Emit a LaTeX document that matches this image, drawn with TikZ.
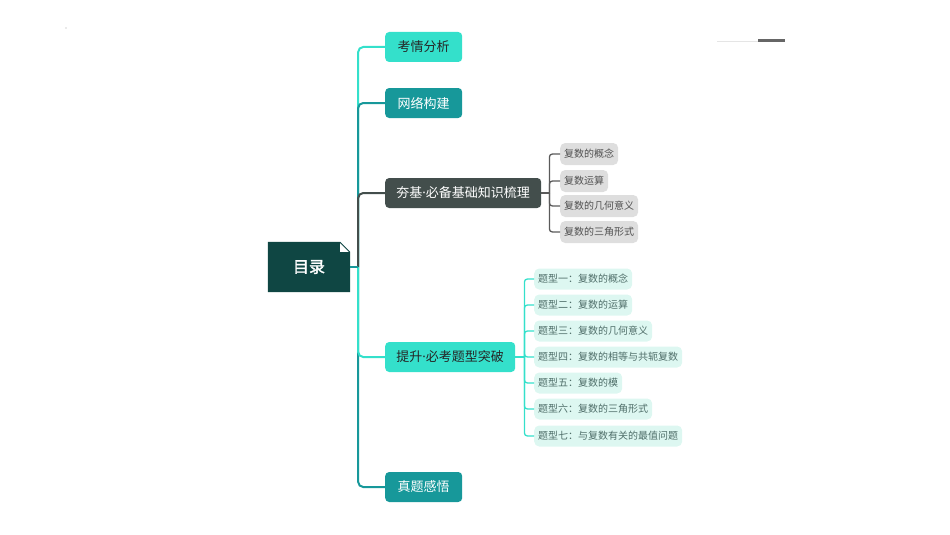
\documentclass[tikz,border=0pt]{standalone}
\usepackage{fontspec}
\setmainfont{Noto Sans CJK SC}
\newfontfamily\cjkbold[FakeBold=2]{Noto Sans CJK SC}
\newfontfamily\latinf{Noto Sans}
\usetikzlibrary{calc}
\definecolor{turq}{HTML}{34E0CB}
\definecolor{tealc}{HTML}{17989A}
\definecolor{darkg}{HTML}{434E4C}
\definecolor{rootc}{HTML}{0F4643}
\definecolor{subg}{HTML}{DEDEDE}
\definecolor{subgtext}{HTML}{505050}
\definecolor{mint}{HTML}{DDF7F1}
\definecolor{minttext}{HTML}{4F6E69}
\definecolor{lineg}{HTML}{5A5A5A}
\newcommand{\mdot}{{\latinf ·}}
\tikzset{
  branchbox/.style={rounded corners=4pt, minimum height=30pt, inner sep=0pt, anchor=west, font=\fontsize{13}{15}\selectfont},
  subgbox/.style={rounded corners=5pt, fill=subg, text=subgtext, minimum height=22pt, inner xsep=4pt, inner ysep=0pt, anchor=west, font=\fontsize{10}{12}\selectfont},
  submbox/.style={rounded corners=5pt, fill=mint, text=minttext, minimum height=21pt, inner xsep=4pt, inner ysep=0pt, anchor=west, font=\fontsize{10}{12}\selectfont},
  trunk/.style={line width=2pt, rounded corners=5pt},
  subline/.style={line width=1.3pt, rounded corners=3pt},
}
\begin{document}
\begin{tikzpicture}[x=1pt,y=-1pt]
\useasboundingbox (0,0) rectangle (950,535);
% decorations
\fill[gray!70] (66,28) circle (0.6pt);
\draw[gray!20, line width=0.8pt] (717,41) -- (758,41);
\draw[gray!120, line width=3pt] (758,41) -- (785,41);

% branches
\node[branchbox, fill=turq, text=black!85, minimum width=77pt] (b1) at (385,47) {考情分析};
\node[branchbox, fill=tealc, text=white, minimum width=77pt] (b2) at (385,103) {网络构建};
\node[branchbox, fill=darkg, text=white, minimum width=156pt] (b3) at (385,193) {夯基\mdot 必备基础知识梳理};
\node[branchbox, fill=turq, text=black!85, minimum width=130pt] (b4) at (385,357) {提升\mdot 必考题型突破};
\node[branchbox, fill=tealc, text=white, minimum width=77pt] (b5) at (385,487) {真题感悟};

% root (page with folded corner)
\node[minimum width=82pt, minimum height=50pt, inner sep=0pt] (root) at (309,267) {};
\fill[rootc] (root.south west) |- ($(root.north east)+(-10,0)$) -- ($(root.north east)+(0,10)$) |- cycle;
\fill[white] ($(root.north east)+(-10,1.6)$) -- ($(root.north east)+(-1.6,10)$) -- ($(root.north east)+(-10,10)$) -- cycle;
\node[text=white, font=\cjkbold\fontsize{16}{18}\selectfont] (roottext) at (root.center) {目录};
\coordinate (rt) at (root.east);
\coordinate (tj) at ($(root.east)+(8,0)$);

% trunk connectors (far first)
\draw[trunk, turq] (tj) |- (b1.west);
\draw[trunk, tealc] (tj) |- (b2.west);
\draw[trunk, darkg] (tj) |- (b3.west);
\draw[trunk, tealc] (tj) |- (b5.west);
\draw[trunk, turq] (tj) |- (b4.west);
\draw[line width=2pt, tealc] (rt) -- (tj);

% gray sub-branches
\node[subgbox] (g1) at (560,154) {复数的概念};
\node[subgbox] (g2) at (560,181) {复数运算};
\node[subgbox] (g3) at (560,206) {复数的几何意义};
\node[subgbox] (g4) at (560,232) {复数的三角形式};
\coordinate (gj) at ($(b3.east)+(8,0)$);
\draw[line width=1.3pt, lineg] (b3.east) -- (gj);
\foreach \n in {g1,g2,g3,g4}{
  \draw[subline, lineg] (gj) |- (\n.west);
}

% mint sub-branches
\node[submbox] (m1) at (534,279) {题型一：复数的概念};
\node[submbox] (m2) at (534,305) {题型二：复数的运算};
\node[submbox] (m3) at (534,331) {题型三：复数的几何意义};
\node[submbox] (m4) at (534,357) {题型四：复数的相等与共轭复数};
\node[submbox] (m5) at (534,383) {题型五：复数的模};
\node[submbox] (m6) at (534,409) {题型六：复数的三角形式};
\node[submbox] (m7) at (534,436) {题型七：与复数有关的最值问题};
\coordinate (mj) at ($(b4.east)+(9,0)$);
\draw[line width=1.3pt, turq] (b4.east) -- (mj);
\foreach \n in {m1,m2,m3,m4,m5,m6,m7}{
  \draw[subline, turq] (mj) |- (\n.west);
}
\end{tikzpicture}
\end{document}
